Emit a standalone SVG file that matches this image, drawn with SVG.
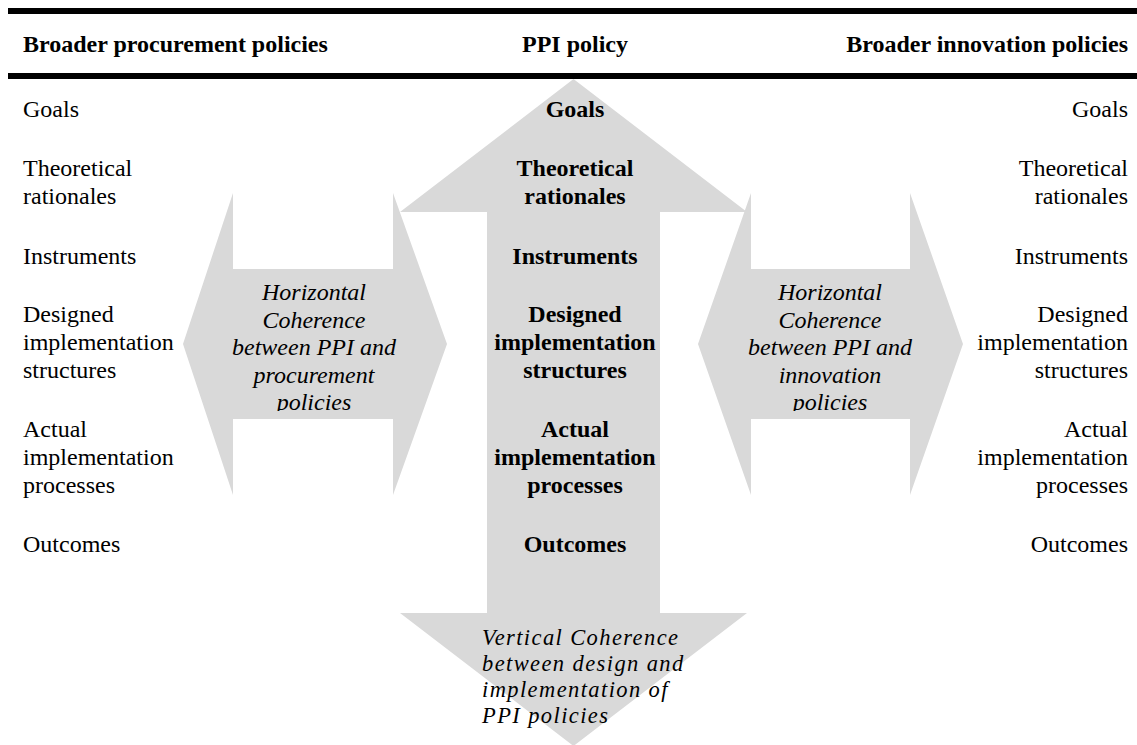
<svg xmlns="http://www.w3.org/2000/svg" width="1137" height="745" viewBox="0 0 1137 745">
  <style>
    text { font-family: "Liberation Serif", "Times New Roman", serif; font-size: 24px; fill: #000; }
    .hdr { font-weight: bold; }
    .l { text-anchor: start; }
    .r { text-anchor: end; }
    .c { text-anchor: middle; font-weight: bold; }
    .it { font-style: italic; text-anchor: middle; }
    .vt { font-style: italic; text-anchor: start; font-size: 22.5px; letter-spacing: 1.4px; }
    .arrow { fill: #d9d9d9; stroke: none; }
    .rule { fill: #000; }
  </style>
  <defs>
    <clipPath id="clipH"><rect x="0" y="269" width="1137" height="142"/></clipPath>
  </defs>

  <g id="rules">
    <rect class="rule" x="8" y="8" width="1129" height="6"/>
    <rect class="rule" x="8" y="73" width="1129" height="6"/>
  </g>

  <g id="connectors">
    <polygon id="vertical-arrow" class="arrow" points="573.5,79 747,212 660,212 660,613 747,613 573.5,746 400,613 487,613 487,212 400,212"/>
    <polygon id="left-arrow" class="arrow" points="183,344 233,193 233,269 393,269 393,193 447,344 393,495 393,419 233,419 233,495"/>
    <polygon id="right-arrow" class="arrow" points="698,344 751,193 751,269 910,269 910,193 963,344 910,495 910,419 751,419 751,495"/>
  </g>

  <g id="headers">
    <text class="hdr l" x="23" y="52">Broader procurement policies</text>
    <text class="hdr" x="575" y="52" text-anchor="middle">PPI policy</text>
    <text class="hdr r" x="1128" y="52">Broader innovation policies</text>
  </g>

  <g id="procurement-column">
    <text class="l" x="23" y="117">Goals</text>
    <text class="l" x="23" y="176">Theoretical</text>
    <text class="l" x="23" y="204">rationales</text>
    <text class="l" x="23" y="264">Instruments</text>
    <text class="l" x="23" y="322">Designed</text>
    <text class="l" x="23" y="350">implementation</text>
    <text class="l" x="23" y="378">structures</text>
    <text class="l" x="23" y="437">Actual</text>
    <text class="l" x="23" y="465">implementation</text>
    <text class="l" x="23" y="493">processes</text>
    <text class="l" x="23" y="552">Outcomes</text>
  </g>

  <g id="ppi-column">
    <text class="c" x="575" y="117">Goals</text>
    <text class="c" x="575" y="176">Theoretical</text>
    <text class="c" x="575" y="204">rationales</text>
    <text class="c" x="575" y="264">Instruments</text>
    <text class="c" x="575" y="322">Designed</text>
    <text class="c" x="575" y="350">implementation</text>
    <text class="c" x="575" y="378">structures</text>
    <text class="c" x="575" y="437">Actual</text>
    <text class="c" x="575" y="465">implementation</text>
    <text class="c" x="575" y="493">processes</text>
    <text class="c" x="575" y="552">Outcomes</text>
  </g>

  <g id="innovation-column">
    <text class="r" x="1128" y="117">Goals</text>
    <text class="r" x="1128" y="176">Theoretical</text>
    <text class="r" x="1128" y="204">rationales</text>
    <text class="r" x="1128" y="264">Instruments</text>
    <text class="r" x="1128" y="322">Designed</text>
    <text class="r" x="1128" y="350">implementation</text>
    <text class="r" x="1128" y="378">structures</text>
    <text class="r" x="1128" y="437">Actual</text>
    <text class="r" x="1128" y="465">implementation</text>
    <text class="r" x="1128" y="493">processes</text>
    <text class="r" x="1128" y="552">Outcomes</text>
  </g>

  <g id="horizontal-procurement" clip-path="url(#clipH)">
    <text class="it" x="314" y="300">Horizontal</text>
    <text class="it" x="314" y="327.5">Coherence</text>
    <text class="it" x="314" y="355">between PPI and</text>
    <text class="it" x="314" y="382.5">procurement</text>
    <text class="it" x="314" y="410">policies</text>
  </g>

  <g id="horizontal-innovation" clip-path="url(#clipH)">
    <text class="it" x="830" y="300">Horizontal</text>
    <text class="it" x="830" y="327.5">Coherence</text>
    <text class="it" x="830" y="355">between PPI and</text>
    <text class="it" x="830" y="382.5">innovation</text>
    <text class="it" x="830" y="410">policies</text>
  </g>

  <g id="vertical-coherence">
    <text class="vt" x="482" y="645">Vertical Coherence</text>
    <text class="vt" x="482" y="671">between design and</text>
    <text class="vt" x="482" y="697">implementation of</text>
    <text class="vt" x="482" y="723">PPI policies</text>
  </g>
</svg>
